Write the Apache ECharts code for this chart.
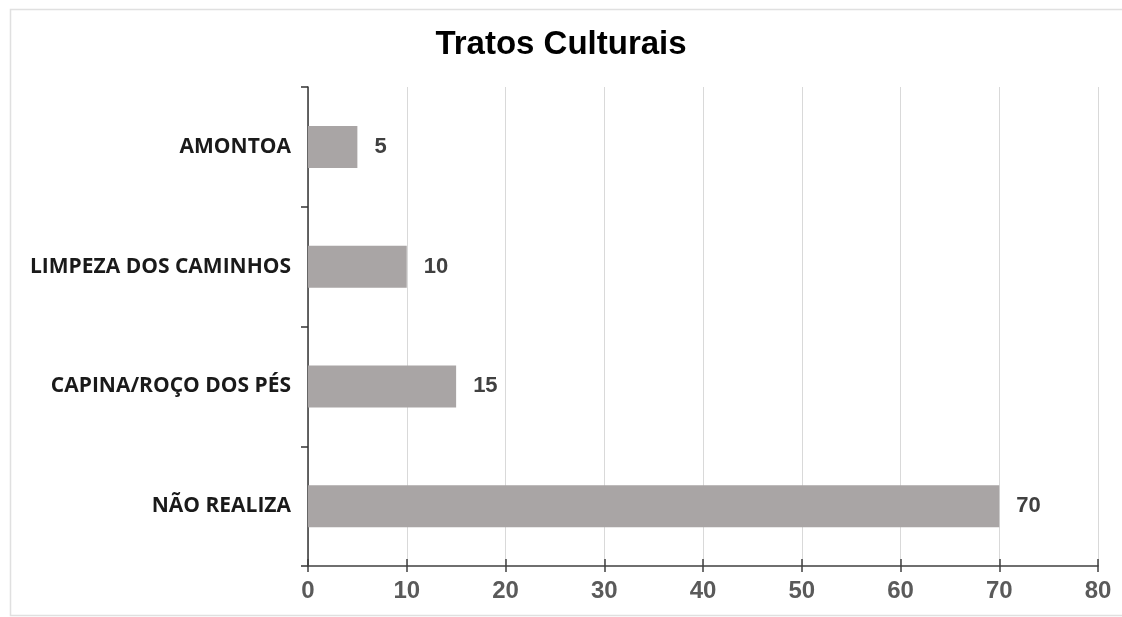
<!DOCTYPE html>
<html>
<head>
<meta charset="utf-8">
<script src="https://cdn.jsdelivr.net/npm/echarts@6/dist/echarts.min.js"></script>
<style>html,body{margin:0;padding:0;background:#fff;}#c{width:1122px;height:617px;}</style>
</head>
<body>
<div id="c"></div>
<script>
const categories = ['AMONTOA', 'LIMPEZA DOS CAMINHOS', 'CAPINA/ROÇO DOS PÉS', 'NÃO REALIZA'];
const values = [5, 10, 15, 70];
const xTicks = [0, 10, 20, 30, 40, 50, 60, 70, 80];

const chart = echarts.init(document.getElementById('c'));
const axisDark = '#404040';
chart.setOption({
  backgroundColor: '#fff',
  animation: false,
  graphic: [{
    type: 'rect', left: 8, top: 7,
    shape: { width: 1122, height: 606 },
    style: { fill: 'none', stroke: '#e0e0e0', lineWidth: 1.5 }
  }],
  title: {
    text: 'Tratos Culturais',
    left: 'center', top: 23,
    textStyle: { fontFamily: 'Liberation Sans', fontWeight: 'bold', fontSize: 33, color: '#000' }
  },
  grid: { left: 308, right: 24, top: 87, bottom: 51, containLabel: false },
  xAxis: [{
    type: 'value', min: xTicks[0], max: xTicks[xTicks.length - 1], interval: 10,
    axisLine: { show: true, lineStyle: { color: axisDark, width: 1.5 } },
    axisTick: { show: true, length: 6, lineStyle: { color: axisDark, width: 1.5 } },
    axisLabel: { fontFamily: 'Liberation Sans', fontWeight: 'bold', fontSize: 24, color: '#5a5a5a', margin: 13 },
    splitLine: { show: true, lineStyle: { color: '#d9d9d9', width: 1 } }
  }, {
    type: 'value', position: 'bottom', min: xTicks[0], max: xTicks[xTicks.length - 1], interval: 10,
    axisLine: { show: false },
    axisTick: { show: true, inside: true, length: 7, lineStyle: { color: axisDark, width: 1.5 } },
    axisLabel: { show: false },
    splitLine: { show: false }
  }],
  yAxis: {
    type: 'category', data: categories, inverse: true,
    axisLine: { show: true, lineStyle: { color: '#333', width: 1.5 } },
    axisTick: { show: true, length: 7, lineStyle: { color: '#333', width: 1.5 } },
    axisLabel: { fontFamily: 'Open Sans', fontWeight: 'bold', fontSize: 21, color: '#1a1a1a', margin: 17 },
    splitLine: { show: false }
  },
  series: [{
    type: 'bar', data: values, barWidth: 42, xAxisIndex: 0,
    itemStyle: { color: '#a9a5a5' },
    label: {
      show: true, position: 'right', distance: 17,
      fontFamily: 'Liberation Sans', fontWeight: 'bold', fontSize: 22, color: '#404040'
    }
  }]
});
</script>
</body>
</html>
